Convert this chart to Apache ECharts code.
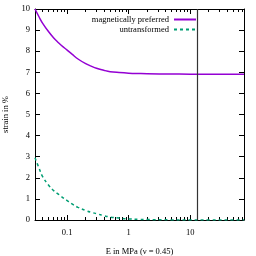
<!DOCTYPE html>
<html><head><meta charset="utf-8">
<script src="https://cdn.jsdelivr.net/npm/echarts@6/dist/echarts.min.js"></script>
<style>html,body{margin:0;padding:0;background:#fff}#c{width:256px;height:256px}</style>
</head><body><div id="c"></div>
<script>
const eValues = [0.03,0.035,0.04,0.05,0.06,0.07,0.08,0.1,0.12,0.15,0.2,0.25,0.3,0.4,0.5,0.7,1,1.5,2,5,10,20,50,75];
const preferred = [10.0,9.62,9.32,8.92,8.64,8.44,8.28,8.05,7.86,7.63,7.41,7.28,7.19,7.09,7.03,6.99,6.96,6.94,6.93,6.92,6.91,6.91,6.91,6.91];
const untransformed = [2.95,2.45,2.05,1.65,1.4,1.25,1.12,0.92,0.76,0.6,0.45,0.36,0.3,0.2,0.14,0.09,0.05,0.03,0.02,0.005,0,0,0,0];
const criticalE = 13;
const xMajorTicks = [0.1,1,10];
const xMinorTicks = [0.03,0.04,0.05,0.06,0.07,0.08,0.09,0.2,0.3,0.4,0.5,0.6,0.7,0.8,0.9,2,3,4,5,6,7,8,9,20,30,40,50,60,70];
const seriesNames = ['magnetically preferred','untransformed'];
const xMin = 0.03, xMax = 75;

const font = 'Liberation Serif';
const fs = 8.5;
const black = '#000';
function xAx(pos, ticks, len, showLine, showLabel) {
  return {
    type: 'log', logBase: 10, min: xMin, max: xMax, position: pos,
    axisLine: {show: showLine, lineStyle: {color: black, width: 1}},
    axisTick: {show: true, inside: true, length: len, customValues: ticks, lineStyle: {color: black, width: 1}},
    axisLabel: showLabel ? {show: true, customValues: xMajorTicks, margin: 8, fontFamily: font, fontSize: fs, color: black} : {show: false},
    splitLine: {show: false}, minorTick: {show: false}
  };
}
const xAxes = [xAx('bottom', xMajorTicks, 5, true, true), xAx('bottom', xMinorTicks, 3, false, false),
               xAx('top', xMajorTicks, 5, true, false), xAx('top', xMinorTicks, 3, false, false)];
xAxes[0].name = 'E in MPa (ν = 0.45)';
xAxes[0].nameLocation = 'middle';
xAxes[0].nameGap = 27;
xAxes[0].nameTextStyle = {fontFamily: font, fontSize: fs, color: black};

function yAx(pos, showLabel) {
  return {
    type: 'value', min: 0, max: 10, interval: 1, position: pos,
    axisLine: {show: true, lineStyle: {color: black, width: 1}},
    axisTick: {show: true, inside: true, length: 5, lineStyle: {color: black}},
    axisLabel: showLabel ? {show: true, margin: 5, fontFamily: font, fontSize: fs, color: black} : {show: false},
    splitLine: {show: false}
  };
}
const yAxes = [yAx('left', true), yAx('right', false)];
yAxes[0].name = 'strain in %';
yAxes[0].nameLocation = 'middle';
yAxes[0].nameGap = 19;
yAxes[0].nameTextStyle = {fontFamily: font, fontSize: fs, color: black};

const chart = echarts.init(document.getElementById('c'), null, {renderer: 'canvas'});
chart.setOption({
  animation: false,
  backgroundColor: '#fff',
  grid: {left: 35, right: 12, top: 9, bottom: 36, containLabel: false, outerBoundsMode: 'none'},
  legend: {
    orient: 'vertical', right: 59, top: 15, align: 'right',
    itemWidth: 22, itemHeight: 8, itemGap: 1, padding: 0,
    itemStyle: {opacity: 0},
    textStyle: {fontFamily: font, fontSize: fs, color: black},
    data: seriesNames
  },
  xAxis: xAxes,
  yAxis: yAxes,
  series: [
    {name: seriesNames[0], type: 'line', xAxisIndex: 0, yAxisIndex: 0, showSymbol: false, symbol: 'none', smooth: 0.4,
     data: eValues.map((e, i) => [e, preferred[i]]),
     lineStyle: {color: '#9400d3', width: 1.5}, itemStyle: {color: '#9400d3'},
     markLine: {silent: true, symbol: 'none', label: {show: false}, lineStyle: {color: '#333', width: 1.2, type: 'solid'},
                data: [{xAxis: criticalE}]}},
    {name: seriesNames[1], type: 'line', xAxisIndex: 0, yAxisIndex: 0, showSymbol: false, symbol: 'none', smooth: 0.4,
     data: eValues.map((e, i) => [e, untransformed[i]]),
     lineStyle: {color: '#009e73', width: 1.5, type: [3, 3]}, itemStyle: {color: '#009e73'}}
  ]
});
</script></body></html>
